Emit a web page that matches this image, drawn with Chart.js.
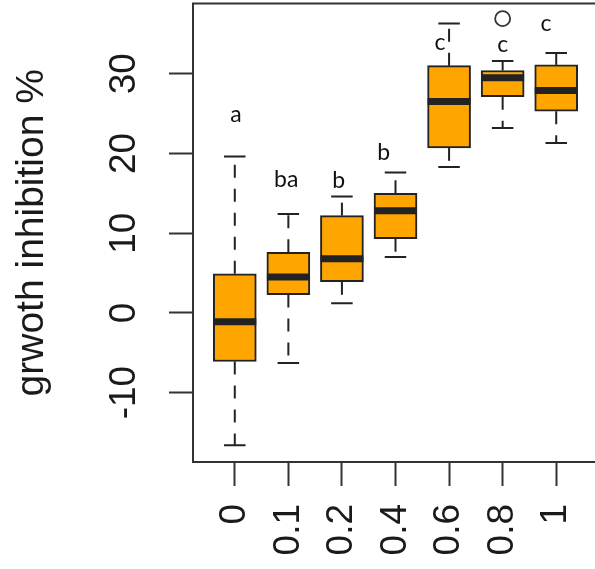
<!DOCTYPE html>
<html>
<head>
<meta charset="utf-8">
<script src="https://cdn.jsdelivr.net/npm/chart.js@4.4.1/dist/chart.umd.min.js"></script>
<style>
  html, body { margin: 0; padding: 0; background: #fff; overflow: hidden; }
  canvas { display: block; }
</style>
</head>
<body>
<canvas id="chartInhibition" width="600" height="569"></canvas>
<script>
// --- data ---
const doses = ['0', '0.1', '0.2', '0.4', '0.6', '0.8', '1'];
const whiskerLow = [-16.6, -6.3, 1.2, 7.0, 18.3, 23.2, 21.3];
const q1 = [-6.1, 2.3, 3.9, 9.3, 20.7, 27.1, 25.3];
const median = [-1.1, 4.5, 6.8, 12.8, 26.5, 29.5, 27.9];
const q3 = [4.9, 7.6, 12.2, 15.0, 31.0, 30.4, 31.1];
const whiskerHigh = [19.6, 12.4, 14.6, 17.6, 36.3, 31.6, 32.6];
const outlierPos = [6];
const outlierValue = [36.9];
const yTicks = [-10, 0, 10, 20, 30];

// significance letters
const letters = ['a', 'ba', 'b', 'b', 'c', 'c', 'c'];
const letterX = [1.02, 1.96, 2.94, 3.78, 4.83, 6.0, 6.81];
const letterY = [24.0, 15.8, 15.7, 19.2, 33.0, 32.7, 35.4];

const ink = '#222';

// whiskers, caps, medians, frame and letters
const boxParts = {
    id: 'boxParts',
    afterDatasetsDraw(chart) {
        const xs = chart.scales.x, ys = chart.scales.y;
        const bars = chart.getDatasetMeta(0).data;
        const ctx = chart.ctx;
        ctx.save();
        ctx.strokeStyle = ink;
        doses.forEach((d, i) => {
            const px = xs.getPixelForValue(i + 1);
            const w = bars[i].width;
            // dashed whiskers, starting at the box
            ctx.lineWidth = 2;
            ctx.setLineDash([13, 11]);
            ctx.beginPath();
            ctx.moveTo(px, ys.getPixelForValue(q3[i]));
            ctx.lineTo(px, ys.getPixelForValue(whiskerHigh[i]));
            ctx.stroke();
            ctx.beginPath();
            ctx.moveTo(px, ys.getPixelForValue(q1[i]));
            ctx.lineTo(px, ys.getPixelForValue(whiskerLow[i]));
            ctx.stroke();
            // caps
            ctx.setLineDash([]);
            ctx.beginPath();
            [whiskerHigh[i], whiskerLow[i]].forEach(v => {
                const py = ys.getPixelForValue(v);
                ctx.moveTo(px - w / 4, py);
                ctx.lineTo(px + w / 4, py);
            });
            ctx.stroke();
            // median
            ctx.lineWidth = 7;
            ctx.beginPath();
            const pm = ys.getPixelForValue(median[i]);
            ctx.moveTo(px - w / 2, pm);
            ctx.lineTo(px + w / 2, pm);
            ctx.stroke();
        });
        ctx.restore();
    },
    afterDraw(chart) {
        const {ctx, chartArea: a} = chart;
        const xs = chart.scales.x, ys = chart.scales.y;
        ctx.save();
        ctx.strokeStyle = '#333';
        ctx.lineWidth = 2;
        ctx.strokeRect(a.left, a.top, a.right - a.left, a.bottom - a.top);
        ctx.fillStyle = '#111';
        ctx.font = '23px Lato';
        ctx.textAlign = 'center';
        ctx.textBaseline = 'alphabetic';
        letters.forEach((t, i) => {
            ctx.fillText(t, xs.getPixelForValue(letterX[i]), ys.getPixelForValue(letterY[i]));
        });
        ctx.restore();
    }
};

const tickFont = { family: 'Liberation Sans', size: 37 };
const tickGrid = { offset: false, drawOnChartArea: false, drawTicks: true, tickLength: 24, tickWidth: 2, tickColor: '#333' };

new Chart(document.getElementById('chartInhibition'), {
    type: 'bar',
    data: {
        datasets: [
            {
                label: 'box',
                data: doses.map((d, i) => ({ x: i + 1, y: [q1[i], q3[i]] })),
                backgroundColor: '#FFA500',
                borderColor: ink,
                borderWidth: 2,
                borderSkipped: false,
                barThickness: 43
            },
            {
                type: 'scatter',
                label: 'outlier',
                data: outlierPos.map((p, k) => ({ x: p, y: outlierValue[k] })),
                pointRadius: 7.5,
                pointBorderWidth: 1.8,
                pointBorderColor: '#333',
                pointBackgroundColor: 'rgba(0,0,0,0)'
            }
        ]
    },
    options: {
        responsive: false,
        animation: false,
        events: [],
        layout: { autoPadding: false, padding: { top: 3.5, right: 2, left: 0, bottom: 0 } },
        plugins: { legend: { display: false }, tooltip: { enabled: false } },
        scales: {
            x: {
                type: 'linear',
                offset: false,
                min: 0.22,
                max: 7.78,
                afterBuildTicks: (s) => { s.ticks = doses.map((d, i) => ({ value: i + 1 })); },
                ticks: {
                    callback: (v) => doses[v - 1],
                    font: tickFont,
                    color: '#1a1a1a',
                    minRotation: 90,
                    maxRotation: 90,
                    padding: 18
                },
                grid: tickGrid,
                border: { display: false },
                afterFit: (s) => { s.height = 107; s.paddingLeft = 0; s.paddingRight = 0; }
            },
            y: {
                type: 'linear',
                min: -18.7,
                max: 38.8,
                afterBuildTicks: (s) => { s.ticks = yTicks.map(v => ({ value: v })); },
                ticks: {
                    font: tickFont,
                    color: '#1a1a1a',
                    minRotation: 90,
                    crossAlign: 'center',
                    padding: 17
                },
                grid: tickGrid,
                border: { display: false },
                title: {
                    display: true,
                    text: 'grwoth inhibition %',
                    font: { family: 'Liberation Sans', size: 39 },
                    color: '#1a1a1a',
                    padding: { top: 9, bottom: 0 }
                },
                afterFit: (s) => { s.width = 193; s.paddingTop = 0; s.paddingBottom = 0; }
            }
        }
    },
    plugins: [boxParts]
});
</script>
</body>
</html>
